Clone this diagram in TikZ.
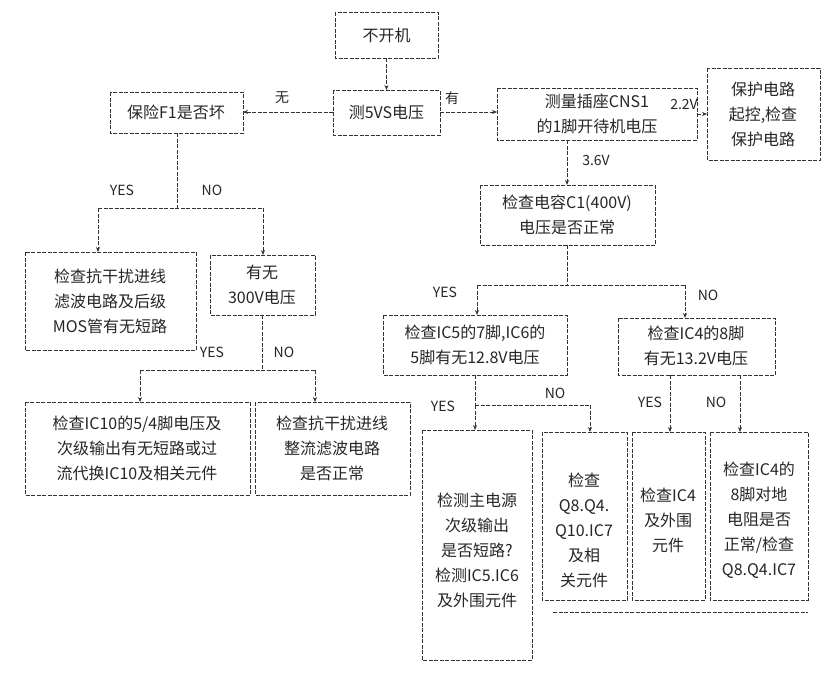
\documentclass[tikz,border=0pt]{standalone}
\usepackage{fontspec}
\setmainfont{Noto Sans CJK SC}
\usetikzlibrary{arrows.meta}
\begin{document}
\begin{tikzpicture}[x=1pt,y=-1pt,
  ln/.style={draw=black!80,line width=1pt,dash pattern=on 4pt off 1.5pt},
  ar/.style={ln,-{Stealth[length=5pt,width=4pt]}},
  bx/.style={ln,fill=white},
  tx/.style={align=center,font=\fontsize{16}{25}\selectfont,text=black!85,inner sep=0pt},
  lb/.style={font=\fontsize{14}{16}\selectfont,text=black!85,inner sep=0pt}]
\useasboundingbox (0,0) rectangle (832,672);
\fill[white] (0,0) rectangle (832,672);
% boxes
\draw[bx] (335,12) rectangle (438,58); \node[tx] (a) at (386.5,35) {不开机};
\draw[bx] (333,90) rectangle (440,135); \node[tx] (b) at (386.5,112) {测5VS电压};
\draw[bx] (110,92) rectangle (243,133); \node[tx] (f) at (176,112) {保险F1是否坏};
\draw[bx] (497,88) rectangle (697,140); \node[tx] (c) at (597,114) {测量插座CNS1\\的1脚开待机电压};
\draw[bx] (707,68) rectangle (820,160); \node[tx] (p) at (763,114) {保护电路\\起控,检查\\保护电路};
\draw[bx] (480,185) rectangle (655,245); \node[tx] (d) at (567,215) {检查电容C1(400V)\\电压是否正常};
\draw[bx] (25,252) rectangle (196,350); \node[tx] (e1) at (110,301) {检查抗干扰进线\\滤波电路及后级\\MOS管有无短路};
\draw[bx] (210,255) rectangle (315,315); \node[tx] (e2) at (262,285) {有无\\300V电压};
\draw[bx] (25,402) rectangle (250,495); \node[tx] (g1) at (137,448) {检查IC10的5/4脚电压及\\次级输出有无短路或过\\流代换IC10及相关元件};
\draw[bx] (255,402) rectangle (410,495); \node[tx] (g2) at (332,448) {检查抗干扰进线\\整流滤波电路\\是否正常};
\draw[bx] (383,315) rectangle (567,375); \node[tx] (h) at (475,345) {检查IC5的7脚,IC6的\\5脚有无12.8V电压};
\draw[bx] (618,318) rectangle (775,375); \node[tx] (i) at (696,346) {检查IC4的8脚\\有无13.2V电压};
\draw[bx] (422,430) rectangle (532,660); \node[tx] (k1) at (477,550) {检测主电源\\次级输出\\是否短路?\\检测IC5.IC6\\及外围元件};
\draw[bx] (542,432) rectangle (627,600); \node[tx] (k2) at (584,530) {检查\\Q8.Q4.\\Q10.IC7\\及相\\关元件};
\draw[bx] (632,432) rectangle (705,600); \node[tx] (k3) at (668,520) {检查IC4\\及外围\\元件};
\draw[bx] (710,432) rectangle (808,600); \node[tx] (k4) at (759,520) {检查IC4的\\8脚对地\\电阻是否\\正常/检查\\Q8.Q4.IC7};
\coordinate (q1) at (553,612); \coordinate (q2) at (808,612);
\draw[ln] (q1) -- (q2);
% connectors
\draw[ar] (386.5,58) -- (386.5,90);
\draw[ar] (333,112) -- (243,112); \node[lb] at (282,98) {无};
\draw[ar] (440,112) -- (497,112); \node[lb] at (452,98) {有};
\draw[ar] (697,114) -- (707,114); \node[lb] at (684,104) {2.2V};
\draw[ar] (567,140) -- (567,185); \node[lb] at (596,160) {3.6V};
% F1 branch
\draw[ln] (177,133) -- (177,208); \draw[ln] (98,208) -- (263,208);
\draw[ar] (98,208) -- (98,252); \draw[ar] (263,208) -- (263,255);
\node[lb] at (122,190) {YES}; \node[lb] at (212,190) {NO};
\draw[ln] (262,315) -- (262,370); \draw[ln] (140,370) -- (315,370);
\draw[ar] (140,370) -- (140,402); \draw[ar] (315,370) -- (315,402);
\node[lb] at (212,352) {YES}; \node[lb] at (284,352) {NO};
% C1 branch
\draw[ln] (567,245) -- (567,285); \draw[ln] (477,285) -- (685,285);
\draw[ar] (477,285) -- (477,315); \draw[ar] (685,285) -- (685,318);
\node[lb] at (445,292) {YES}; \node[lb] at (708,295) {NO};
% IC5 branch
\draw[ln] (475,375) -- (475,405); \draw[ln] (475,405) -- (590,405);
\draw[ar] (475,405) -- (475,430); \draw[ar] (590,405) -- (590,432);
\node[lb] at (443,406) {YES}; \node[lb] at (555,393) {NO};
% IC4 branch
\draw[ar] (670,375) -- (670,432); \draw[ar] (740,375) -- (740,432);
\node[lb] at (650,402) {YES}; \node[lb] at (716,402) {NO};
\end{tikzpicture}
\end{document}
